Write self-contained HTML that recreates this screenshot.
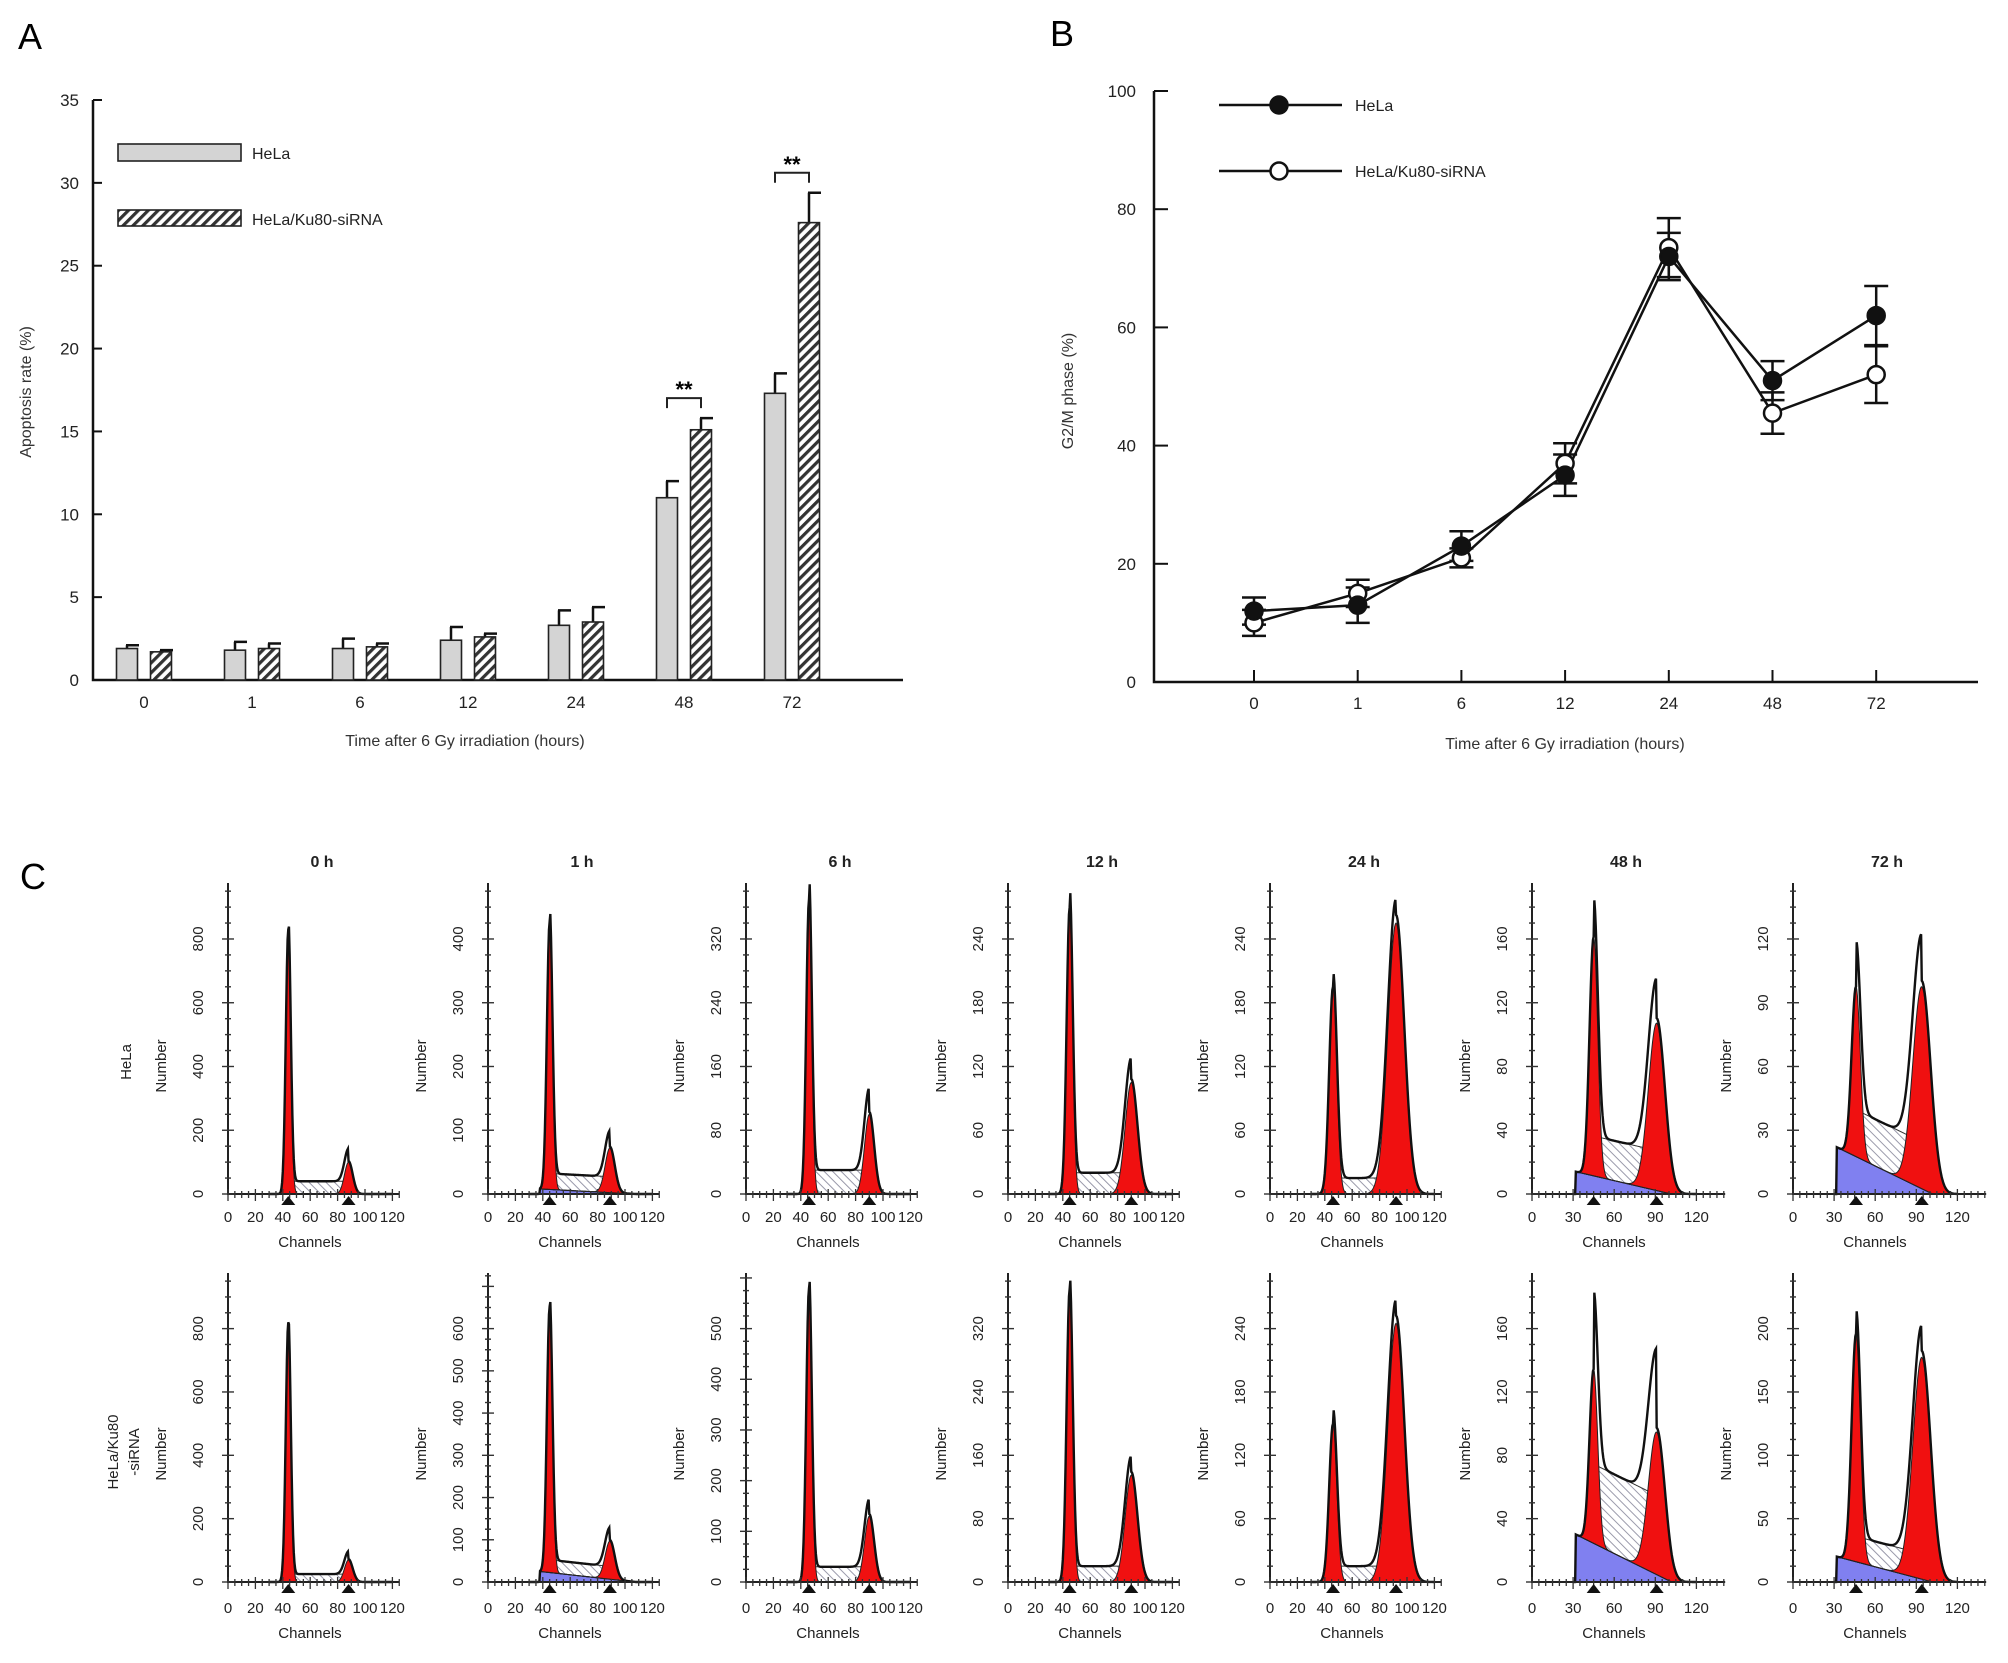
<!DOCTYPE html>
<html><head><meta charset="utf-8">
<style>
html,body{margin:0;padding:0;background:#fff;}
svg{display:block;font-family:"Liberation Sans",Arial,sans-serif;}
</style></head>
<body>
<svg id="fig" width="2008" height="1663" viewBox="0 0 2008 1663" xmlns="http://www.w3.org/2000/svg">
<defs>
<pattern id="hatch" width="7" height="7" patternUnits="userSpaceOnUse" patternTransform="rotate(45)">
<rect width="7" height="7" fill="#fff"/><rect width="3.2" height="7" fill="#333"/>
</pattern>
<pattern id="hatch2" width="6" height="6" patternUnits="userSpaceOnUse" patternTransform="rotate(-45)">
<rect width="6" height="6" fill="#fff"/><rect width="1" height="6" fill="#99a"/>
</pattern>
</defs>
<text x="18" y="49" font-size="36">A</text>
<text x="1050" y="46" font-size="36">B</text>
<text x="20" y="889" font-size="36">C</text>
<g id="chartA"></g>
<g id="chartB"></g>
<g id="chartC"></g>
</svg>
<script>
// ---------- Chart A data ----------
const catsA = ["0","1","6","12","24","48","72"];
const helaA = [1.9,1.8,1.9,2.4,3.3,11.0,17.3];
const helaAErr = [0.2,0.5,0.6,0.8,0.9,1.0,1.2];
const kuA = [1.7,1.9,2.0,2.6,3.5,15.1,27.6];
const kuAErr = [0.1,0.3,0.2,0.2,0.9,0.7,1.8];
const ticksA = [0,5,10,15,20,25,30,35];
// ---------- Chart B data ----------
const catsB = ["0","1","6","12","24","48","72"];
const helaB = [12,13,23,35,72,51,62];
const helaBErr = [2.3,3,2.5,3.5,4,3.3,5];
const kuB = [10,15,21,37,73.5,45.5,52];
const kuBErr = [2.2,2.3,1.6,3.4,5,3.5,4.8];
const ticksB = [0,20,40,60,80,100];
// ---------- Chart C data ----------
const timesC = ["0 h","1 h","6 h","12 h","24 h","48 h","72 h"];
const topTickRow1 = [800,400,320,240,240,160,120];
const tickStepRow1 = [200,100,80,60,60,40,30];
const g1Row1 = [830,420,370,270,195,150,80];
const g2Row1 = [100,70,100,105,255,105,95];
const sRow1 = [40,25,30,20,15,25,22];
const debrisRow1 = [0,8,0,0,0,14,22];
const topTickRow2 = [800,600,500,320,240,160,200];
const tickStepRow2 = [200,100,100,80,60,40,50];
const g1Row2 = [820,630,580,370,150,110,180];
const g2Row2 = [70,90,130,135,245,90,175];
const sRow2 = [25,30,30,20,15,50,20];
const debrisRow2 = [0,25,0,0,0,30,20];
const g1Channel = [44,45,46,45,46,45,46];
const g2Channel = [88,89,90,90,92,91,94];
const g1Sigma = [1.8,2,2,2.2,2.8,3,3.2];
const g2Sigma = [3,3.5,3.5,4.5,6,6,6.5];

const NS="http://www.w3.org/2000/svg";
function mk(tag,attrs,parent,text){const e=document.createElementNS(NS,tag);for(const k in attrs)e.setAttribute(k,attrs[k]);if(text!==undefined)e.textContent=text;parent.appendChild(e);return e;}

// ---------- Chart A ----------
(function(){
const g=document.getElementById('chartA');
const X0=93,X1=903,Y0=680,Y35=100;
const y=v=>Y0-(v/35)*(Y0-Y35);
const xc=i=>144+i*108;
const ax=mk('path',{d:`M${X0} ${Y35} V${Y0} H${X1}`,stroke:'#111','stroke-width':2.5,fill:'none'},g);

ticksA.forEach(t=>{
 const tk=mk('line',{x1:X0,x2:X0+9,y1:y(t),y2:y(t),stroke:'#111','stroke-width':2},g);
 
 const lb=mk('text',{x:X0-14,y:y(t)+6,'font-size':17,'text-anchor':'end',fill:'#222'},g,String(t));
 
});
const yt=mk('text',{x:0,y:0,'font-size':16,'text-anchor':'middle',fill:'#333',transform:`translate(31 392) rotate(-90)`},g,'Apoptosis rate (%)');

const xt=mk('text',{x:465,y:746,'font-size':16,'text-anchor':'middle',fill:'#333'},g,'Time after 6 Gy irradiation (hours)');

const bw=21;
catsA.forEach((c,i)=>{
 const lb=mk('text',{x:xc(i),y:708,'font-size':17,'text-anchor':'middle',fill:'#222'},g,c);
 
 [[helaA,helaAErr,-17,'#d4d4d4'],[kuA,kuAErr,17,'url(#hatch)']].forEach(([vals,errs,off,fill],s)=>{
  const cx=xc(i)+off,top=y(vals[i]),et=y(vals[i]+errs[i]);
  const eb=mk('path',{d:`M${cx} ${top} V${et} M${cx-1} ${et} H${cx+12}`,stroke:'#111','stroke-width':2.5,fill:'none'},g);
  
  const r=mk('rect',{x:cx-bw/2,y:top,width:bw,height:Y0-top,fill:fill,stroke:'#222','stroke-width':1.6},g);
  
 });
});
[5,6].forEach(i=>{
 const hy=y(Math.max(helaA[i]+helaAErr[i],kuA[i]+kuAErr[i]))-20;
 const a=xc(i)-17,b=xc(i)+17;
 const br=mk('path',{d:`M${a} ${hy+10} V${hy} H${b} V${hy+10}`,stroke:'#222','stroke-width':2,fill:'none'},g);
 
 const st=mk('text',{x:xc(i),y:hy-1,'font-size':22,'font-weight':'bold','text-anchor':'middle'},g,'**');
 
});
const l1=mk('rect',{x:118,y:144,width:123,height:17,fill:'#d4d4d4',stroke:'#222','stroke-width':1.6},g);

const t1=mk('text',{x:252,y:159,'font-size':16,fill:'#222'},g,'HeLa');

const l2=mk('rect',{x:118,y:210,width:123,height:16,fill:'url(#hatch)',stroke:'#222','stroke-width':1.6},g);

const t2=mk('text',{x:252,y:225,'font-size':16,fill:'#222'},g,'HeLa/Ku80-siRNA');

})();

// ---------- Chart B ----------
(function(){
const g=document.getElementById('chartB');
const X0=1154,X1=1978,Y0=682,Y100=91;
const y=v=>Y0-(v/100)*(Y0-Y100);
const xc=i=>1254+i*103.7;
const ax=mk('path',{d:`M${X0} ${Y100} V${Y0} H${X1}`,stroke:'#111','stroke-width':2.5,fill:'none'},g);

ticksB.forEach(t=>{
 const tk=mk('line',{x1:X0,x2:X0+14,y1:y(t),y2:y(t),stroke:'#111','stroke-width':2},g);
 
 const lb=mk('text',{x:X0-18,y:y(t)+6,'font-size':17,'text-anchor':'end',fill:'#222'},g,String(t));
 
});
catsB.forEach((c,i)=>{
 const tk=mk('line',{x1:xc(i),x2:xc(i),y1:Y0,y2:Y0-12,stroke:'#111','stroke-width':2},g);
 
 const lb=mk('text',{x:xc(i),y:709,'font-size':17,'text-anchor':'middle',fill:'#222'},g,c);
 
});
const yt=mk('text',{x:0,y:0,'font-size':16,'text-anchor':'middle',fill:'#333',transform:`translate(1073 391) rotate(-90)`},g,'G2/M phase (%)');

const xt=mk('text',{x:1565,y:749,'font-size':16,'text-anchor':'middle',fill:'#333'},g,'Time after 6 Gy irradiation (hours)');

[[kuB,kuBErr,'#fff','ku80'],[helaB,helaBErr,'#111','hela']].forEach(([vals,errs,fill,nm])=>{
 const ln=mk('polyline',{points:vals.map((v,i)=>xc(i)+','+y(v)).join(' '),fill:'none',stroke:'#111','stroke-width':2.5},g);
 
 vals.forEach((v,i)=>{
  const a=y(v+errs[i]),b=y(v-errs[i]),x=xc(i);
  const eb=mk('path',{d:`M${x} ${a} V${b} M${x-12} ${a} H${x+12} M${x-12} ${b} H${x+12}`,stroke:'#111','stroke-width':2.5,fill:'none'},g);
  
 });
});
[[kuB,'#fff','ku80'],[helaB,'#111','hela']].forEach(([vals,fill,nm])=>{
 vals.forEach((v,i)=>{
  const p=mk('circle',{cx:xc(i),cy:y(v),r:8.5,fill:fill,stroke:'#111','stroke-width':2.5},g);
  
 });
});
[[105,'#111','HeLa','hela'],[171,'#fff','HeLa/Ku80-siRNA','ku80']].forEach(([ly,fill,txt,nm])=>{
 const l=mk('line',{x1:1219,x2:1342,y1:ly,y2:ly,stroke:'#111','stroke-width':2.5},g);
 
 const c=mk('circle',{cx:1279,cy:ly,r:8.5,fill:fill,stroke:'#111','stroke-width':2.5},g);
 
 const t=mk('text',{x:1355,y:ly+6,'font-size':16,fill:'#222'},g,txt);
 
});
})();

// ---------- Chart C ----------
(function(){
const g=document.getElementById('chartC');
const axX=[228,488,746,1008,1270,1532,1793];
const rows=[
 {zero:1194,top:883,lab:1222,chan:1247,tt:topTickRow1,st:tickStepRow1,g1:g1Row1,g2:g2Row1,s:sRow1,d:debrisRow1,name:'hela'},
 {zero:1582,top:1273,lab:1613,chan:1638,tt:topTickRow2,st:tickStepRow2,g1:g1Row2,g2:g2Row2,s:sRow2,d:debrisRow2,name:'ku80'}];
timesC.forEach((t,i)=>{
 const tl=mk('text',{x:axX[i]+94,y:867,'font-size':16,'text-anchor':'middle','font-weight':'bold',fill:'#222'},g,t);
 
});
const rl1=mk('text',{x:0,y:0,'font-size':15,'text-anchor':'middle',fill:'#222',transform:'translate(131 1062) rotate(-90)'},g,'HeLa');

const rl2=mk('text',{x:0,y:0,'font-size':15,'text-anchor':'middle',fill:'#222',transform:'translate(118 1452) rotate(-90)'},g,'HeLa/Ku80');

const rl3=mk('text',{x:0,y:0,'font-size':15,'text-anchor':'middle',fill:'#222',transform:'translate(139 1452) rotate(-90)'},g,'-siRNA');

rows.forEach(R=>{
 timesC.forEach((t,i)=>{
  const x0=axX[i];
  const wide=i>=5;
  const pxc=1.37;
  const chMax=wide?141:125;
  const X=c=>x0+c*pxc;
  const H=R.zero-R.top;
  const ymax=R.tt[i]/0.82;
  const Y=v=>R.zero-Math.min(v/ymax,1.0)*H;
  const pg=mk('g',{},g);
  
  const c1=g1Channel[i],c2=g2Channel[i];
  const s1=g1Sigma[i],s2=g2Sigma[i];
  const gauss=(c,mu,s)=>Math.exp(-0.5*((c-mu)/s)**2);
  const dStart=wide?32:38;
  const deb=c=>c<dStart?0:R.d[i]*Math.max(0,1-(c-dStart)/70);
  const sPh=c=>(c>c1&&c<c2)?R.s[i]:0;
  const g1=c=>R.g1[i]*gauss(c,c1,s1);
  const g2=c=>R.g2[i]*gauss(c,c2,s2);
  const cs=[];for(let c=30;c<=120;c+=0.5)cs.push(c);
  const poly=(f,fb)=>{let p=cs.map(c=>X(c)+','+Y(f(c)+(fb?fb(c):0))).join(' ');p+=' '+cs.slice().reverse().map(c=>X(c)+','+Y(fb?fb(c):0)).join(' ');return p;};
  if(R.d[i]>0){const dp=mk('polygon',{points:poly(deb),fill:'#8080f0',stroke:'#222','stroke-width':1.2},pg);
   }
  const sp=mk('polygon',{points:poly(sPh,deb),fill:'url(#hatch2)',stroke:'#333','stroke-width':1},pg);
  
  const r1=mk('polygon',{points:poly(g1,deb),fill:'#f01010',stroke:'#222','stroke-width':1},pg);
  
  const r2=mk('polygon',{points:poly(g2,deb),fill:'#f01010',stroke:'#222','stroke-width':1},pg);
  
  const tot=c=>g1(c)+g2(c)*1.03+sPh(c)+deb(c);
  const ol=mk('polyline',{points:cs.map(c=>X(c)+','+Y(tot(c))).join(' '),fill:'none',stroke:'#111','stroke-width':2.4},pg);
  
  const ax=mk('path',{d:`M${x0} ${R.top} V${R.zero} H${X(chMax)}`,stroke:'#222','stroke-width':2,fill:'none'},pg);
  
  const minor=R.st[i]/4;
  for(let v=0;v<=ymax;v+=minor){
   const major=Math.abs(v/R.st[i]-Math.round(v/R.st[i]))<1e-6;
   const tk=mk('line',{x1:x0-(major?6:3),x2:x0+(major?6:3),y1:Y(v),y2:Y(v),stroke:'#333','stroke-width':1.4},pg);
   
   if(major&&v<=R.tt[i]+1e-6){
    const lb=mk('text',{x:0,y:0,'font-size':15,'text-anchor':'middle',fill:'#222',transform:`translate(${x0-25} ${Y(v)}) rotate(-90)`},pg,String(Math.round(v)));
    
   }
  }
  const xstep=wide?30:20;
  for(let c=0;c<=chMax;c+=5){
   const major=c%xstep===0;
   const tk=mk('line',{x1:X(c),x2:X(c),y1:R.zero-(major?5:3),y2:R.zero+(major?7:4),stroke:'#333','stroke-width':1.3},pg);
   
   if(major&&c<=120){
    const lb=mk('text',{x:X(c),y:R.lab,'font-size':15,'text-anchor':'middle',fill:'#222'},pg,String(c));
    
   }
  }
  [c1,c2].forEach(c=>{
   const tr=mk('polygon',{points:`${X(c)-7},${R.zero+11} ${X(c)+7},${R.zero+11} ${X(c)},${R.zero+2}`,fill:'#111'},pg);
   
  });
  const cl=mk('text',{x:x0+82,y:R.chan,'font-size':15,'text-anchor':'middle',fill:'#222'},pg,'Channels');
  
  const nl=mk('text',{x:0,y:0,'font-size':15,'text-anchor':'middle',fill:'#222',transform:`translate(${x0-62} ${R.zero-128}) rotate(-90)`},pg,'Number');
  
 });
});
})();
</script>
</body></html>
